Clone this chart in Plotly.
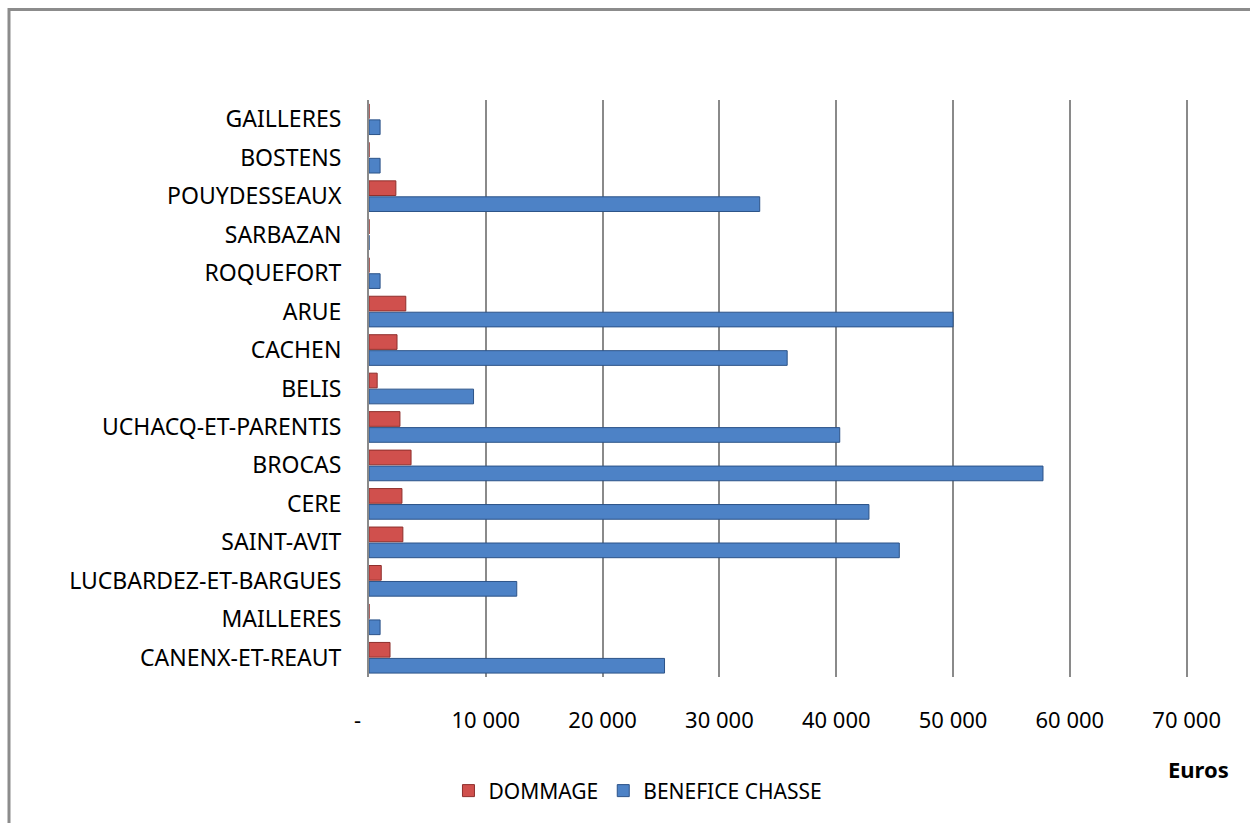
import plotly.graph_objects as go

# Communes, listed bottom to top as they appear on the chart
communes = ["CANENX-ET-REAUT", "MAILLERES", "LUCBARDEZ-ET-BARGUES", "SAINT-AVIT",
            "CERE", "BROCAS", "UCHACQ-ET-PARENTIS", "BELIS", "CACHEN", "ARUE",
            "ROQUEFORT", "SARBAZAN", "POUYDESSEAUX", "BOSTENS", "GAILLERES"]
dommage = [1800, 0, 1050, 2900, 2820, 3600, 2650, 700, 2400, 3150,
           0, 0, 2300, 0, 0]
benefice = [25300, 950, 12650, 45400, 42800, 57700, 40300, 8950, 35800, 50000,
            950, 0, 33450, 950, 950]

tick_vals = [0, 10000, 20000, 30000, 40000, 50000, 60000, 70000]
tick_text = ["-\u00a0\u00a0\u00a0\u00a0", "10 000", "20 000", "30 000", "40 000",
             "50 000", "60 000", "70 000"]

font_name = "Noto Sans"

fig = go.Figure()
# blue trace first so it sits below the red one in each group
fig.add_trace(go.Bar(y=communes, x=benefice, orientation="h", name="BENEFICE CHASSE",
                     marker=dict(color="#4d82c6", line=dict(color="#2c5388", width=1))))
fig.add_trace(go.Bar(y=communes, x=dommage, orientation="h", name="DOMMAGE",
                     marker=dict(color="#d0504d", line=dict(color="#8e2f2c", width=1))))

fig.update_layout(
    width=1250, height=823,
    margin=dict(l=369, r=61, t=100, b=143),
    plot_bgcolor="white", paper_bgcolor="white",
    barmode="group", bargap=0.17, bargroupgap=0.08,
    font=dict(family=font_name, size=22, color="black"),
    showlegend=True,
    legend=dict(orientation="h", x=0.328, xanchor="center", y=-0.162, yanchor="top",
                traceorder="reversed", font=dict(size=21)),
)
# range end nudged past 70 000 so its grid line is drawn
fig.update_xaxes(range=[0, 70200], tickvals=tick_vals, ticktext=tick_text,
                 showgrid=True, gridcolor="#8a8a8a", gridwidth=1.5,
                 zeroline=False, showline=False, ticklabelstandoff=28,
                 tickfont=dict(size=22))
fig.update_yaxes(range=[-0.5, 14.5], showgrid=False, showline=True,
                 linecolor="#8a8a8a", linewidth=2, ticks="", ticklabelstandoff=21,
                 tickfont=dict(size=23))

fig.add_annotation(text="<b>Euros</b>", xref="paper", yref="paper", x=1.051, y=-0.13,
                   xanchor="right", yanchor="top", showarrow=False,
                   font=dict(size=22, family=font_name))

# outer border of the chart area (in pixel terms converted to paper coords)
pw, ph = 1250 - 369 - 61, 823 - 100 - 143
fig.add_shape(type="rect", xref="paper", yref="paper",
              x0=(9 - 369) / pw, x1=(1265 - 369) / pw,
              y0=(823 - 143 - 835) / ph, y1=(823 - 143 - 9) / ph,
              line=dict(color="#8c8c8c", width=3))

fig.write_html("out.html", config={"displayModeBar": False},
               post_script="document.body.style.margin='0';")
